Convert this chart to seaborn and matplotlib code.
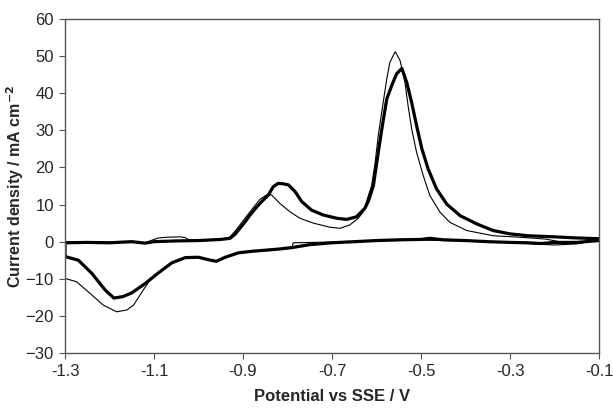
import pandas as pd
import numpy as np
import matplotlib
matplotlib.use("Agg")
import matplotlib.pyplot as plt
import seaborn as sns


# Thick curve: cathodic sweep (-0.1 -> -1.3) then anodic sweep (-1.3 -> -0.1)
thick_x = [-0.10, -0.15, -0.20, -0.23, -0.26, -0.30, -0.35, -0.40, -0.45, -0.48,
           -0.50, -0.55, -0.60, -0.65, -0.70, -0.75, -0.79, -0.82, -0.85, -0.88,
           -0.91, -0.94, -0.96, -0.98, -1.00, -1.03, -1.06, -1.09, -1.12, -1.15,
           -1.17, -1.19, -1.21, -1.24, -1.27, -1.30,
           -1.30, -1.25, -1.20, -1.15, -1.12, -1.10, -1.05, -1.00, -0.95, -0.929,
           -0.918, -0.907, -0.895, -0.884, -0.873, -0.862, -0.843, -0.832, -0.821, -0.81,
           -0.798, -0.783, -0.768, -0.746, -0.72, -0.689, -0.667, -0.645, -0.626, -0.618,
           -0.607, -0.596, -0.588, -0.577, -0.566, -0.555, -0.543, -0.532, -0.521, -0.510,
           -0.498, -0.484, -0.465, -0.442, -0.412, -0.375, -0.338, -0.300, -0.26, -0.20,
           -0.15, -0.10]
thick_y = [0.3, -0.2, -0.2, -0.5, -0.3, -0.2, 0.0, 0.3, 0.5, 0.9,
           0.6, 0.5, 0.3, 0.0, -0.3, -0.8, -1.6, -2.0, -2.3, -2.6,
           -3.0, -4.2, -5.3, -4.8, -4.2, -4.3, -5.7, -8.4, -11.3, -13.8,
           -14.8, -15.2, -13.0, -8.5, -5.0, -4.0,
           -0.3, -0.2, -0.3, 0.0, -0.4, 0.0, 0.2, 0.3, 0.6, 0.9,
           2.0, 3.6, 5.4, 7.2, 8.8, 10.3, 12.6, 14.8, 15.7, 15.6,
           15.3, 13.5, 10.8, 8.5, 7.2, 6.3, 6.0, 6.7, 9.0, 11.0,
           15.1, 24.1, 30.4, 38.4, 42.0, 45.2, 46.7, 42.9, 37.5, 31.3,
           25.0, 19.6, 14.2, 10.1, 7.0, 4.8, 3.0, 2.1, 1.6, 1.3,
           1.0, 0.8]

# Thin curve
thin_x = [-0.10, -0.15, -0.20, -0.25, -0.30, -0.40, -0.50, -0.60, -0.70, -0.787,
          -0.79, -0.82, -0.85, -0.88, -0.91, -0.94, -0.96, -0.98, -1.00, -1.03,
          -1.06, -1.09, -1.11, -1.124, -1.146, -1.161, -1.184, -1.214, -1.244, -1.274,
          -1.30,
          -1.30, -1.20, -1.12, -1.10, -1.09, -1.07, -1.04, -1.03, -1.02, -0.95,
          -0.93, -0.918, -0.907, -0.884, -0.862, -0.847, -0.836, -0.817, -0.795, -0.772,
          -0.742, -0.705, -0.682, -0.66, -0.641, -0.63, -0.622, -0.611, -0.603, -0.596,
          -0.585, -0.577, -0.570, -0.558, -0.547, -0.536, -0.529, -0.521, -0.510, -0.495,
          -0.480, -0.457, -0.435, -0.397, -0.338, -0.278, -0.22, -0.18, -0.14, -0.10]
thin_y = [0.5, -0.6, -0.9, -0.6, -0.2, 0.2, 0.4, 0.2, -0.1, -0.3,
          -1.5, -2.0, -2.3, -2.6, -3.0, -4.2, -5.3, -4.8, -4.2, -4.3,
          -5.7, -8.4, -10.5, -13.0, -17.1, -18.4, -18.9, -17.1, -13.9, -10.8,
          -9.9,
          0.0, -0.1, -0.3, 0.6, 1.0, 1.2, 1.3, 1.1, 0.4, 0.5,
          1.2, 2.8, 4.5, 8.1, 11.4, 12.6, 12.6, 10.3, 8.1, 6.3,
          5.0, 3.9, 3.6, 4.5, 6.3, 8.0, 11.0, 15.1, 21.4, 28.6,
          37.5, 43.8, 48.3, 51.2, 48.8, 42.9, 36.6, 30.4, 24.1, 17.8,
          12.4, 7.9, 5.2, 3.0, 1.6, 1.2, 0.7, -0.2, -0.3, 0.5]

x_ticks = [-1.3, -1.1, -0.9, -0.7, -0.5, -0.3, -0.1]
y_ticks = [-30, -20, -10, 0, 10, 20, 30, 40, 50, 60]

sns.set_style("ticks")
plt.rcParams["font.family"] = ["Liberation Sans", "DejaVu Sans"]

thick_df = pd.DataFrame({"E": thick_x, "j": thick_y})
thin_df = pd.DataFrame({"E": thin_x, "j": thin_y})

fig = plt.figure(figsize=(6.13, 4.08), dpi=100)
ax = fig.add_axes([65 / 613, 1 - 353 / 408, 534 / 613, 334 / 408])

sns.lineplot(data=thin_df, x="E", y="j", sort=False, estimator=None, color="black", linewidth=0.8, ax=ax)
sns.lineplot(data=thick_df, x="E", y="j", sort=False, estimator=None, color="black", linewidth=2.3, ax=ax)

ax.set_xlim(-1.3, -0.1)
ax.set_ylim(-30, 60)
ax.set_xticks(x_ticks)
ax.set_xticklabels([f"{t:.1f}" for t in x_ticks])
ax.set_yticks(y_ticks)
ax.tick_params(labelsize=12, length=4, width=0.8, color="#555555", pad=4)
for side in ["top", "right", "left", "bottom"]:
    ax.spines[side].set_visible(True)
    ax.spines[side].set_color("#555555")
    ax.spines[side].set_linewidth(1.0)

ax.set_xlabel("Potential vs SSE / V", fontsize=12, fontweight="bold", labelpad=7)
ax.set_ylabel("Current density / mA cm$^{\\mathbf{-2}}$", fontsize=11.5, fontweight="bold", labelpad=0)

fig.savefig("out.png", dpi=100)
